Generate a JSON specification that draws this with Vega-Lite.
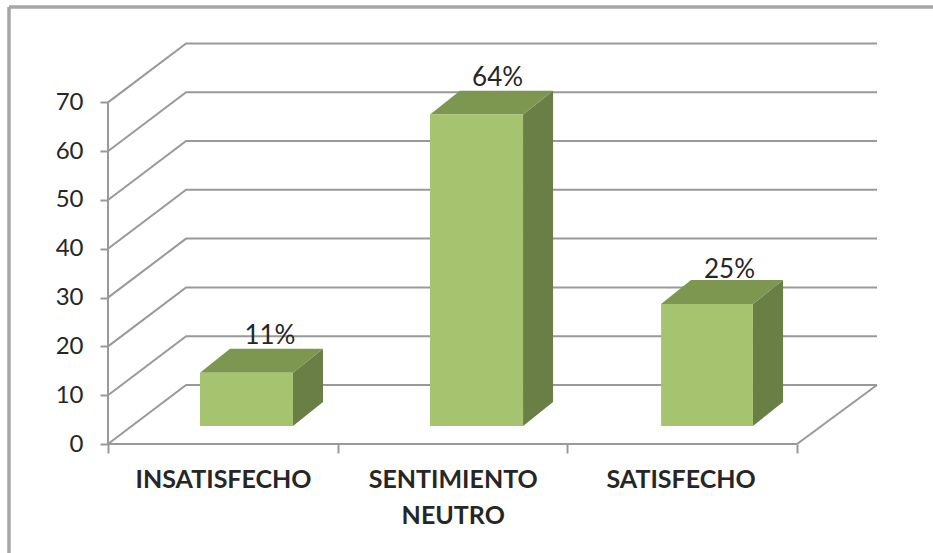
{
"$schema":"https://vega.github.io/schema/vega-lite/v6.json",
"width":769,"height":401,
"autosize":{"type":"none"},
"padding":{"left":108,"top":43,"right":56,"bottom":109},
"background":"white",
"config":{"view":{"stroke":null}},
"encoding":{
 "x":{"field":"x","type":"quantitative","scale":{"domain":[0,3.348],"nice":false,"zero":false},
  "axis":{"title":null,"values":[0,1,2,3],"labels":false,"domain":false,"grid":false,"ticks":true,"tickSize":9,"tickColor":"#999999","tickWidth":2}},
 "y":{"field":"y","type":"quantitative","stack":null,"scale":{"domain":[0,82.17],"nice":false,"zero":false},
  "axis":{"title":null,"values":[0,10,20,30,40,50,60,70],"format":"d","domain":false,"grid":false,"tickSize":8,"tickColor":"#999999","tickWidth":2,"labelPadding":17,"labelFont":"Lato","labelFontSize":24,"labelColor":"#262626"}}
},
"layer":[
 {"data":{"values":[
  {"line":"left","x":-0.431,"y":89.55},{"line":"left","x":-0.431,"y":-22.4},
  {"line":"top","x":-0.431,"y":89.55},{"line":"top","x":3.6,"y":89.55}]},
  "mark":{"type":"line","color":"#a6a6a6","strokeWidth":3.5},
  "encoding":{"detail":{"field":"line"}}},
 {"data":{"values":[
  {"line":"g0","x":0,"y":0},{"line":"g0","x":0.34,"y":12.09},{"line":"g0","x":3.348,"y":12.09},
  {"line":"g10","x":0,"y":10},{"line":"g10","x":0.34,"y":22.09},{"line":"g10","x":3.348,"y":22.09},
  {"line":"g20","x":0,"y":20},{"line":"g20","x":0.34,"y":32.09},{"line":"g20","x":3.348,"y":32.09},
  {"line":"g30","x":0,"y":30},{"line":"g30","x":0.34,"y":42.09},{"line":"g30","x":3.348,"y":42.09},
  {"line":"g40","x":0,"y":40},{"line":"g40","x":0.34,"y":52.09},{"line":"g40","x":3.348,"y":52.09},
  {"line":"g50","x":0,"y":50},{"line":"g50","x":0.34,"y":62.09},{"line":"g50","x":3.348,"y":62.09},
  {"line":"g60","x":0,"y":60},{"line":"g60","x":0.34,"y":72.09},{"line":"g60","x":3.348,"y":72.09},
  {"line":"g70","x":0,"y":70},{"line":"g70","x":0.34,"y":82.09},{"line":"g70","x":3.348,"y":82.09},
  {"line":"yaxis","x":0,"y":0},{"line":"yaxis","x":0,"y":70},
  {"line":"xaxis","x":0,"y":0},{"line":"xaxis","x":3,"y":0},
  {"line":"floor","x":3,"y":0},{"line":"floor","x":3.348,"y":12.09}]},
  "mark":{"type":"line","color":"#999999","strokeWidth":2},
  "encoding":{"detail":{"field":"line"}}},
 {"data":{"values":[
  {"bar":"INSATISFECHO","face":"side","x":0.8055,"y":14.6,"y2":3.69},{"bar":"INSATISFECHO","face":"side","x":0.9361,"y":19.5,"y2":8.6},
  {"bar":"INSATISFECHO","face":"top","x":0.4006,"y":14.6,"y2":14.6},{"bar":"INSATISFECHO","face":"top","x":0.5312,"y":19.5,"y2":14.6},{"bar":"INSATISFECHO","face":"top","x":0.8055,"y":19.5,"y2":14.6},{"bar":"INSATISFECHO","face":"top","x":0.9361,"y":19.5,"y2":19.5},
  {"bar":"INSATISFECHO","face":"front","x":0.4006,"y":14.6,"y2":3.69},{"bar":"INSATISFECHO","face":"front","x":0.8055,"y":14.6,"y2":3.69},
  {"bar":"SENTIMIENTO","face":"side","x":1.807,"y":67.5,"y2":3.69},{"bar":"SENTIMIENTO","face":"side","x":1.9376,"y":72.4,"y2":8.6},
  {"bar":"SENTIMIENTO","face":"top","x":1.402,"y":67.5,"y2":67.5},{"bar":"SENTIMIENTO","face":"top","x":1.5326,"y":72.4,"y2":67.5},{"bar":"SENTIMIENTO","face":"top","x":1.807,"y":72.4,"y2":67.5},{"bar":"SENTIMIENTO","face":"top","x":1.9376,"y":72.4,"y2":72.4},
  {"bar":"SENTIMIENTO","face":"front","x":1.402,"y":67.5,"y2":3.69},{"bar":"SENTIMIENTO","face":"front","x":1.807,"y":67.5,"y2":3.69},
  {"bar":"SATISFECHO","face":"side","x":2.808,"y":28.69,"y2":3.69},{"bar":"SATISFECHO","face":"side","x":2.939,"y":33.6,"y2":8.6},
  {"bar":"SATISFECHO","face":"top","x":2.408,"y":28.69,"y2":28.69},{"bar":"SATISFECHO","face":"top","x":2.5384,"y":33.6,"y2":28.69},{"bar":"SATISFECHO","face":"top","x":2.808,"y":33.6,"y2":28.69},{"bar":"SATISFECHO","face":"top","x":2.939,"y":33.6,"y2":33.6},
  {"bar":"SATISFECHO","face":"front","x":2.408,"y":28.69,"y2":3.69},{"bar":"SATISFECHO","face":"front","x":2.808,"y":28.69,"y2":3.69}]},
  "mark":{"type":"area","opacity":1,"interpolate":"linear"},
  "encoding":{
   "y2":{"field":"y2"},
   "detail":{"field":"bar"},
   "color":{"field":"face","type":"nominal","legend":null,"scale":{"domain":["front","side","top"],"range":["#a6c36f","#6a7f45","#7d9650"]}}}},
 {"data":{"values":[{"label":"11%","x":0.705,"y":22.1},{"label":"64%","x":1.696,"y":74.9},{"label":"25%","x":2.706,"y":35.6}]},
  "mark":{"type":"text","font":"Lato","fontSize":26,"color":"#262626","align":"center","baseline":"middle"},
  "encoding":{"text":{"field":"label"}}},
 {"data":{"values":[{"label":"INSATISFECHO","x":0.503,"y":-7.4},{"label":"SENTIMIENTO","x":1.503,"y":-7.4},{"label":"NEUTRO","x":1.503,"y":-14.75},{"label":"SATISFECHO","x":2.495,"y":-7.4}]},
  "mark":{"type":"text","font":"Lato","fontSize":25,"fontWeight":"bold","color":"#262626","align":"center","baseline":"middle"},
  "encoding":{"text":{"field":"label"}}}
]
}
